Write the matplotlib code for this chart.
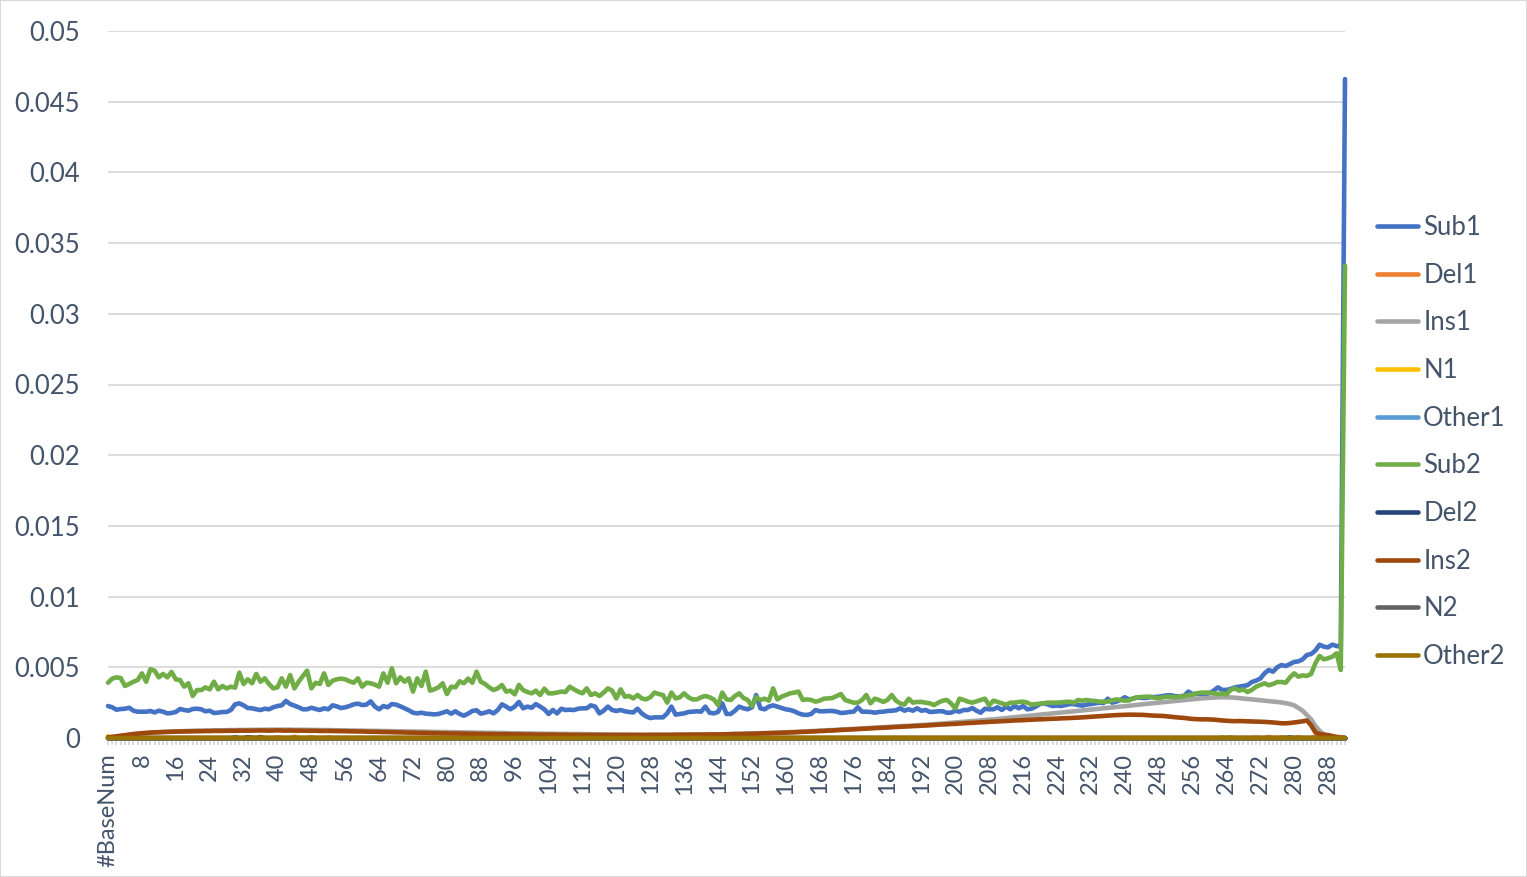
import numpy as np
import matplotlib
matplotlib.use('Agg')
import matplotlib.pyplot as plt
from matplotlib.patches import Rectangle

plt.rcParams['font.family'] = ['Lato', 'DejaVu Sans']

# x categories: header row + base positions 1..292
n_pts = 293
categories = ['#BaseNum'] + [str(i) for i in range(1, n_pts)]

# values, in chunks of x
sub1 = [
    0.00226, 0.00217, 0.00200, 0.00205, 0.00207, 0.00214, 0.00193, 0.00186, 0.00186, 0.00186,
    0.00191, 0.00181, 0.00193, 0.00186, 0.00174, 0.00177, 0.00184, 0.00205, 0.00198, 0.00193,
    0.00205, 0.00207, 0.00203, 0.00189, 0.00193, 0.00177, 0.00179, 0.00184, 0.00184, 0.00198,
    0.00238, 0.00245, 0.00231, 0.00212, 0.00210, 0.00203, 0.00198, 0.00207, 0.00203, 0.00217,
    0.00226, 0.00231, 0.00262, 0.00240, 0.00229, 0.00217, 0.00203, 0.00203, 0.00214,
    0.00205, 0.00198, 0.00210, 0.00203, 0.00231, 0.00224, 0.00212, 0.00217, 0.00226, 0.00238,
    0.00243, 0.00233, 0.00236, 0.00259, 0.00222, 0.00203, 0.00226, 0.00217, 0.00240, 0.00236,
    0.00224, 0.00210, 0.00196, 0.00179, 0.00174, 0.00179, 0.00172, 0.00170, 0.00167, 0.00170,
    0.00179, 0.00189, 0.00172, 0.00189, 0.00170, 0.00158, 0.00172, 0.00191, 0.00196, 0.00172,
    0.00179, 0.00189, 0.00174, 0.00198, 0.00238, 0.00222, 0.00203, 0.00222, 0.00255,
    0.00210, 0.00222, 0.00214, 0.00240, 0.00222, 0.00203, 0.00170, 0.00198, 0.00174, 0.00207,
    0.00198, 0.00200, 0.00198, 0.00207, 0.00210, 0.00210, 0.00231, 0.00222, 0.00174, 0.00193,
    0.00222, 0.00198, 0.00191, 0.00198, 0.00189, 0.00184, 0.00181, 0.00207, 0.00174, 0.00153,
    0.00141, 0.00146, 0.00146, 0.00146, 0.00174, 0.00222, 0.00165, 0.00170, 0.00174, 0.00184,
    0.00186, 0.00189, 0.00186, 0.00222, 0.00179, 0.00174, 0.00184, 0.00245,
    0.00170, 0.00170, 0.00193, 0.00222, 0.00210, 0.00203, 0.00217, 0.00304, 0.00210, 0.00203,
    0.00222, 0.00231, 0.00222, 0.00212, 0.00203, 0.00198, 0.00189, 0.00174, 0.00165, 0.00163,
    0.00170, 0.00198, 0.00189, 0.00189, 0.00191, 0.00191, 0.00186, 0.00177, 0.00179, 0.00184,
    0.00186, 0.00217, 0.00186, 0.00186, 0.00184, 0.00179, 0.00184, 0.00186, 0.00191, 0.00193,
    0.00196, 0.00210, 0.00193, 0.00203, 0.00193, 0.00210, 0.00193, 0.00198, 0.00184,
    0.00186, 0.00189, 0.00189, 0.00179, 0.00179, 0.00193, 0.00186, 0.00198, 0.00198, 0.00212,
    0.00193, 0.00179, 0.00207, 0.00203, 0.00203, 0.00217, 0.00198, 0.00222, 0.00203, 0.00226,
    0.00210, 0.00226, 0.00203, 0.00207, 0.00222, 0.00240, 0.00245, 0.00236, 0.00226, 0.00229,
    0.00226, 0.00233, 0.00240, 0.00240, 0.00233, 0.00229, 0.00236, 0.00240, 0.00245, 0.00250,
    0.00247, 0.00278, 0.00250, 0.00257, 0.00269, 0.00288, 0.00273, 0.00278,
    0.00288, 0.00283, 0.00283, 0.00288, 0.00290, 0.00292, 0.00297, 0.00302, 0.00302, 0.00295,
    0.00295, 0.00297, 0.00328, 0.00311, 0.00311, 0.00311, 0.00311, 0.00316, 0.00335, 0.00358,
    0.00340, 0.00340, 0.00347, 0.00358, 0.00363, 0.00368, 0.00373, 0.00396, 0.00406, 0.00420,
    0.00457, 0.00481, 0.00469, 0.00500, 0.00516, 0.00509, 0.00523, 0.00538, 0.00542, 0.00556,
    0.00587, 0.00594, 0.00618, 0.00660, 0.00646, 0.00641, 0.00660, 0.00651, 0.00646, 0.0466,
]

sub2 = [
    0.00391, 0.00420, 0.00429, 0.00424, 0.00368, 0.00382, 0.00398, 0.00410, 0.00457, 0.00398,
    0.00486, 0.00476, 0.00429, 0.00453, 0.00429, 0.00467, 0.00415, 0.00410, 0.00363, 0.00387,
    0.00297, 0.00339, 0.00339, 0.00358, 0.00344, 0.00398, 0.00344, 0.00368, 0.00351, 0.00363,
    0.00356, 0.00462, 0.00382, 0.00415, 0.00387, 0.00453, 0.00398, 0.00422, 0.00382, 0.00351,
    0.00358, 0.00422, 0.00363, 0.00445, 0.00351, 0.00398, 0.00438, 0.00476, 0.00351,
    0.00391, 0.00382, 0.00457, 0.00375, 0.00405, 0.00415, 0.00420, 0.00415, 0.00401, 0.00391,
    0.00422, 0.00363, 0.00391, 0.00387, 0.00377, 0.00363, 0.00457, 0.00391, 0.00493, 0.00387,
    0.00429, 0.00398, 0.00422, 0.00328, 0.00422, 0.00368, 0.00469, 0.00335, 0.00344, 0.00358,
    0.00387, 0.00311, 0.00363, 0.00358, 0.00401, 0.00387, 0.00420, 0.00391, 0.00469, 0.00398,
    0.00382, 0.00358, 0.00339, 0.00351, 0.00375, 0.00328, 0.00335, 0.00309, 0.00375,
    0.00339, 0.00325, 0.00316, 0.00335, 0.00304, 0.00349, 0.00316, 0.00316, 0.00321, 0.00328,
    0.00325, 0.00363, 0.00344, 0.00328, 0.00316, 0.00351, 0.00304, 0.00316, 0.00297, 0.00321,
    0.00351, 0.00335, 0.00280, 0.00344, 0.00292, 0.00297, 0.00280, 0.00304, 0.00280, 0.00273,
    0.00288, 0.00321, 0.00311, 0.00304, 0.00250, 0.00321, 0.00280, 0.00288, 0.00316, 0.00288,
    0.00273, 0.00273, 0.00288, 0.00297, 0.00288, 0.00273, 0.00233, 0.00321,
    0.00273, 0.00269, 0.00297, 0.00316, 0.00283, 0.00269, 0.00226, 0.00288, 0.00269, 0.00278,
    0.00264, 0.00351, 0.00273, 0.00292, 0.00304, 0.00316, 0.00321, 0.00328, 0.00269, 0.00273,
    0.00269, 0.00257, 0.00264, 0.00278, 0.00280, 0.00283, 0.00297, 0.00311, 0.00269, 0.00259,
    0.00250, 0.00250, 0.00269, 0.00304, 0.00245, 0.00278, 0.00269, 0.00255, 0.00269, 0.00304,
    0.00264, 0.00245, 0.00236, 0.00278, 0.00250, 0.00255, 0.00255, 0.00250, 0.00245,
    0.00233, 0.00250, 0.00264, 0.00269, 0.00245, 0.00210, 0.00278, 0.00269, 0.00257, 0.00250,
    0.00259, 0.00269, 0.00278, 0.00231, 0.00264, 0.00255, 0.00245, 0.00236, 0.00250, 0.00250,
    0.00255, 0.00257, 0.00250, 0.00236, 0.00240, 0.00243, 0.00247, 0.00250, 0.00250, 0.00250,
    0.00252, 0.00255, 0.00257, 0.00250, 0.00269, 0.00264, 0.00269, 0.00264, 0.00262, 0.00257,
    0.00257, 0.00257, 0.00266, 0.00273, 0.00269, 0.00264, 0.00266, 0.00280,
    0.00288, 0.00290, 0.00292, 0.00292, 0.00285, 0.00281, 0.00288, 0.00292, 0.00292, 0.00288,
    0.00295, 0.00297, 0.00302, 0.00307, 0.00316, 0.00321, 0.00321, 0.00321, 0.00316, 0.00311,
    0.00316, 0.00307, 0.00340, 0.00351, 0.00335, 0.00344, 0.00325, 0.00340, 0.00363, 0.00375,
    0.00387, 0.00373, 0.00382, 0.00396, 0.00396, 0.00391, 0.00429, 0.00457, 0.00434, 0.00443,
    0.00439, 0.00453, 0.00528, 0.00580, 0.00556, 0.00564, 0.00575, 0.00599, 0.00481, 0.0334,
]

ins1 = [
    0.00003, 0.00006, 0.00010, 0.00014, 0.00018, 0.00022, 0.00026, 0.00029, 0.00032, 0.00035,
    0.00037, 0.00039, 0.00041, 0.00043, 0.00044, 0.00046, 0.00047, 0.00048, 0.00049, 0.00050,
    0.00051,
    0.00052, 0.00052, 0.00053, 0.00053, 0.00054, 0.00054, 0.00055, 0.00055, 0.00056, 0.00056,
    0.00057, 0.00057, 0.00057, 0.00058, 0.00058, 0.00058, 0.00058, 0.00059, 0.00059, 0.00059,
    0.00059, 0.00059, 0.00059, 0.00058, 0.00058, 0.00058, 0.00058, 0.00057, 0.00057, 0.00057,
    0.00056, 0.00056, 0.00055, 0.00055, 0.00054, 0.00054, 0.00053, 0.00053, 0.00052, 0.00052,
    0.00051, 0.00051, 0.00050, 0.00050, 0.00049, 0.00049, 0.00048, 0.00048, 0.00047, 0.00047,
    0.00046, 0.00046, 0.00045, 0.00045, 0.00044, 0.00044, 0.00043, 0.00043, 0.00042, 0.00042,
    0.00041, 0.00041, 0.00040, 0.00040, 0.00039, 0.00039, 0.00038, 0.00038, 0.00037, 0.00037,
    0.00036, 0.00036, 0.00035, 0.00035, 0.00034, 0.00034, 0.00033, 0.00033, 0.00032, 0.00032,
    0.00031, 0.00031, 0.00030, 0.00030, 0.00030, 0.00029, 0.00029, 0.00029, 0.00028, 0.00028,
    0.00028, 0.00027, 0.00027, 0.00027, 0.00026, 0.00026, 0.00026, 0.00025, 0.00025, 0.00025,
    0.00025, 0.00024, 0.00024, 0.00024, 0.00024, 0.00024, 0.00023, 0.00023, 0.00023, 0.00023,
    0.00023, 0.00023, 0.00023, 0.00023, 0.00024, 0.00024, 0.00024, 0.00024, 0.00024, 0.00025,
    0.00025, 0.00025, 0.00025, 0.00026, 0.00026,
    0.00027, 0.00028, 0.00029, 0.00029, 0.00030, 0.00031, 0.00032, 0.00033, 0.00034, 0.00035,
    0.00036, 0.00037, 0.00038, 0.00039, 0.00040, 0.00042, 0.00043, 0.00044, 0.00046, 0.00047,
    0.00049, 0.00050, 0.00052, 0.00053, 0.00055, 0.00056, 0.00058, 0.00060, 0.00061, 0.00063,
    0.00065, 0.00066, 0.00068, 0.00070, 0.00071, 0.00073, 0.00075, 0.00076, 0.00078, 0.00080,
    0.00081, 0.00083, 0.00085, 0.00086, 0.00088, 0.00090, 0.00092, 0.00094, 0.00096,
    0.00098, 0.00100, 0.00102, 0.00105, 0.00107, 0.00110, 0.00112, 0.00115, 0.00117, 0.00120,
    0.00122, 0.00125, 0.00127, 0.00130, 0.00132, 0.00135, 0.00138, 0.00141, 0.00144, 0.00147,
    0.00150, 0.00153, 0.00156, 0.00159, 0.00162, 0.00165, 0.00168, 0.00171, 0.00174, 0.00177,
    0.00180, 0.00183, 0.00186, 0.00189, 0.00192, 0.00195, 0.00198, 0.00201, 0.00204, 0.00207,
    0.00210, 0.00213, 0.00216, 0.00219, 0.00222, 0.00225, 0.00228, 0.00231,
    0.00235, 0.00238, 0.00241, 0.00244, 0.00247, 0.00250, 0.00253, 0.00256, 0.00259, 0.00262,
    0.00265, 0.00268, 0.00271, 0.00274, 0.00277, 0.00280, 0.00282, 0.00284, 0.00286, 0.00287,
    0.00288, 0.00288, 0.00287, 0.00285, 0.00282, 0.00279, 0.00276, 0.00273, 0.00270, 0.00267,
    0.00264, 0.00261, 0.00258, 0.00255, 0.00251, 0.00246, 0.00240,
    0.00231, 0.00212, 0.00193, 0.00163, 0.00132, 0.00085, 0.00050, 0.00026, 0.00012, 0.00005,
    0.00002, 0.00001, 0.0,
]

ins2 = [
    0.00005, 0.00008, 0.00012, 0.00016, 0.00020, 0.00024, 0.00028, 0.00031, 0.00034, 0.00036,
    0.00038, 0.00040, 0.00041, 0.00042, 0.00043, 0.00044, 0.00045, 0.00046, 0.00046, 0.00047,
    0.00047, 0.00048, 0.00048, 0.00049,
    0.00049, 0.00050, 0.00050, 0.00050, 0.00051, 0.00051, 0.00051, 0.00052, 0.00052, 0.00052,
    0.00052, 0.00053, 0.00053, 0.00053, 0.00052, 0.00053, 0.00054, 0.00053, 0.00052, 0.00053,
    0.00052, 0.00052, 0.00052, 0.00051, 0.00051, 0.00051, 0.00050, 0.00050, 0.00050, 0.00049,
    0.00049, 0.00048, 0.00048,
    0.00047, 0.00047, 0.00046, 0.00046, 0.00045, 0.00044, 0.00044, 0.00043, 0.00042, 0.00042,
    0.00041, 0.00040, 0.00040, 0.00039, 0.00038, 0.00038, 0.00037, 0.00036, 0.00036, 0.00035,
    0.00034, 0.00034, 0.00033, 0.00033, 0.00032, 0.00032, 0.00031, 0.00031, 0.00030, 0.00030,
    0.00029, 0.00029, 0.00028, 0.00028, 0.00028, 0.00027, 0.00027, 0.00027, 0.00026, 0.00026,
    0.00026,
    0.00025, 0.00025, 0.00025, 0.00024, 0.00024, 0.00024, 0.00024, 0.00023, 0.00023, 0.00023,
    0.00023, 0.00022, 0.00022, 0.00022, 0.00022, 0.00022, 0.00021, 0.00021, 0.00021, 0.00021,
    0.00021, 0.00021, 0.00021, 0.00021, 0.00021, 0.00021, 0.00021, 0.00021, 0.00021, 0.00021,
    0.00022, 0.00022, 0.00022, 0.00022, 0.00022, 0.00022, 0.00023, 0.00023, 0.00023, 0.00023,
    0.00024, 0.00024, 0.00024, 0.00024, 0.00025, 0.00025, 0.00025, 0.00026,
    0.00026, 0.00027, 0.00028, 0.00028, 0.00029, 0.00030, 0.00030, 0.00031, 0.00032, 0.00033,
    0.00034, 0.00035, 0.00036, 0.00037, 0.00038, 0.00039, 0.00040, 0.00042, 0.00043, 0.00044,
    0.00046, 0.00047, 0.00049, 0.00050, 0.00052, 0.00053, 0.00055, 0.00057, 0.00058, 0.00060,
    0.00061, 0.00063, 0.00065, 0.00066, 0.00068, 0.00070, 0.00071, 0.00073, 0.00074, 0.00076,
    0.00078, 0.00079, 0.00081, 0.00082, 0.00084, 0.00085, 0.00087, 0.00088, 0.00090,
    0.00092, 0.00094, 0.00096, 0.00097, 0.00099, 0.00100, 0.00102, 0.00104, 0.00106, 0.00107,
    0.00109, 0.00111, 0.00112, 0.00114, 0.00116, 0.00117, 0.00119, 0.00120, 0.00122, 0.00124,
    0.00125, 0.00126, 0.00128, 0.00129, 0.00131, 0.00132, 0.00133, 0.00135, 0.00136, 0.00137,
    0.00139, 0.00140, 0.00141, 0.00143, 0.00144, 0.00146, 0.00148, 0.00150, 0.00152, 0.00154,
    0.00156, 0.00158, 0.00160, 0.00162, 0.00163, 0.00164, 0.00165, 0.00165,
    0.00164, 0.00164, 0.00162, 0.00160, 0.00158, 0.00157, 0.00156, 0.00153, 0.00150, 0.00147,
    0.00144, 0.00142, 0.00138, 0.00135, 0.00133, 0.00132, 0.00132, 0.00131, 0.00130, 0.00127,
    0.00124, 0.00122, 0.00120, 0.00119, 0.00120, 0.00119, 0.00118, 0.00117, 0.00116, 0.00115,
    0.00114, 0.00112, 0.00110, 0.00107, 0.00104, 0.00104, 0.00106, 0.00110, 0.00114, 0.00118,
    0.00124, 0.00090, 0.00040, 0.00028, 0.00024, 0.00021, 0.00014, 0.00008, 0.00003, 0.00000,
]

# series that sit on the zero line; only the small blips are listed
del1_blips = {34: 0.00006, 36: 0.00008, 40: 0.00005, 44: 0.00009, 48: 0.00006, 52: 0.00004,
              271: 0.00004, 274: 0.00008, 277: 0.00005, 281: 0.00006, 285: 0.00009}
n1_blips = {0: 0.00012}
other1_blips = {}
del2_blips = {30: 0.00004, 33: 0.00005, 36: 0.00003, 279: 0.00004}
n2_blips = {}
other2_blips = {263: 0.00003, 265: 0.00004}


def from_blips(blips):
    vals = np.zeros(n_pts)
    for k, v in blips.items():
        vals[k] = v
    return vals


names = ['Sub1', 'Del1', 'Ins1', 'N1', 'Other1', 'Sub2', 'Del2', 'Ins2', 'N2', 'Other2']
colors = ['#4472C4', '#ED7D31', '#A5A5A5', '#FFC000', '#5B9BD5',
          '#70AD47', '#264478', '#9E480E', '#636363', '#997300']
data = [sub1, from_blips(del1_blips), ins1, from_blips(n1_blips), from_blips(other1_blips),
        sub2, from_blips(del2_blips), ins2, from_blips(n2_blips), from_blips(other2_blips)]
for d in data:
    assert len(d) == n_pts, len(d)

W, H = 1527, 877
fig = plt.figure(figsize=(W / 100, H / 100), dpi=100)
ax = fig.add_axes([108 / W, (H - 738) / H, (1345 - 108) / W, (738 - 31) / H])

txt_col = '#44546A'
grid_col = '#D9D9D9'
x = np.arange(n_pts)
for name, vals, col in zip(names, data, colors):
    ax.plot(x, vals, color=col, lw=3.3, label=name, clip_on=False,
            solid_capstyle='round', solid_joinstyle='round', zorder=3)

ax.set_xlim(0, n_pts - 1)
ax.set_ylim(0, 0.05)
yt = [0, 0.005, 0.01, 0.015, 0.02, 0.025, 0.03, 0.035, 0.04, 0.045, 0.05]
ax.set_yticks(yt)
ax.set_yticklabels(['%g' % v for v in yt])
ax.grid(axis='y', color=grid_col, lw=1.3)
ax.set_axisbelow(True)

ax.set_xticks(x[::8])
ax.set_xticklabels(categories[::8], rotation=90)
ax.set_xticks(x, minor=True)

for s in ['top', 'right', 'left']:
    ax.spines[s].set_visible(False)
ax.spines['bottom'].set_color(grid_col)
ax.spines['bottom'].set_linewidth(1.3)

ax.tick_params(axis='y', length=0, pad=20, labelsize=18.5, labelcolor=txt_col)
ax.tick_params(axis='x', which='both', length=5, width=1.3, color=grid_col,
               direction='out')
ax.tick_params(axis='x', which='major', pad=6, labelsize=17, labelcolor=txt_col)

leg = fig.legend(loc='center left', bbox_to_anchor=(1377 / W, 1 - 442 / H),
                 frameon=False, fontsize=18.5, handlelength=1.6, handletextpad=0.2,
                 labelspacing=0.88, borderpad=0, borderaxespad=0)
for t in leg.get_texts():
    t.set_color(txt_col)

fig.patches.append(Rectangle((0, 0), 1, 1, transform=fig.transFigure, fill=False,
                             ec=grid_col, lw=1.5))

fig.savefig('out.png', dpi=100)
